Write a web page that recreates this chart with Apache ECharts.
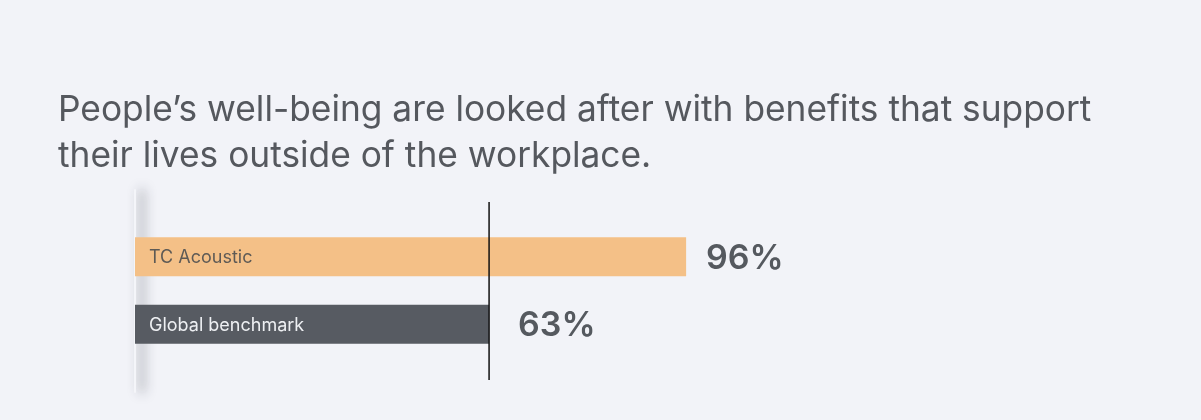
<!DOCTYPE html>
<html>
<head>
<meta charset="utf-8">
<script src="https://cdn.jsdelivr.net/npm/echarts@6/dist/echarts.min.js"></script>
<style>
  html, body { margin: 0; padding: 0; background: #f2f3f8; }
  #chart { width: 1201px; height: 420px; }
</style>
</head>
<body>
<div id="chart"></div>
<script>
const titleLines = [
  'People\u2019s well-being are looked after with benefits that support',
  'their lives outside of the workplace.'
]
const categories = ['TC Acoustic', 'Global benchmark']
const values = [96, 63]
const barColors = ['#f4c087', '#575b62']
const labelColors = ['#5e5a55', '#eef0f3']
const benchmark = 63

const chart = echarts.init(document.getElementById('chart'))

const xRange = { min: 3.7, max: 100 }
// the reference places the shorter bar's value label a bit further out
const labelDistance = [20, 29]

chart.setOption({
  backgroundColor: '#f2f3f8',
  animation: false,
  title: {
    text: titleLines.join('\n'),
    left: 53,
    top: 82,
    textStyle: {
      fontFamily: 'Inter',
      fontSize: 35.3,
      fontWeight: 400,
      color: '#55585e',
      lineHeight: 46
    }
  },
  grid: [
    { left: 135, top: 223, width: 575, height: 135 },
    { left: 135, top: 190, width: 575, height: 202 }
  ],
  xAxis: [
    { gridIndex: 0, type: 'value', ...xRange, show: false },
    { gridIndex: 1, type: 'value', ...xRange, show: false }
  ],
  yAxis: [
    {
      gridIndex: 0,
      type: 'category',
      inverse: true,
      data: categories,
      axisLine: { show: false },
      axisTick: { show: false },
      axisLabel: { show: false }
    },
    {
      gridIndex: 1,
      type: 'value',
      min: -0.0674,
      max: 1.0674,
      splitLine: { show: false },
      axisTick: { show: false },
      axisLabel: { show: false },
      axisLine: {
        show: true,
        lineStyle: {
          color: '#f4f5f9',
          width: 2,
          shadowColor: 'rgba(40,44,58,0.9)',
          shadowBlur: 12,
          shadowOffsetX: 7
        }
      }
    }
  ],
  series: [
    {
      type: 'bar',
      xAxisIndex: 0,
      yAxisIndex: 0,
      barWidth: 39,
      clip: true,
      z: 3,
      data: values.map((v, i) => ({
        value: v,
        itemStyle: { color: barColors[i] },
        label: { color: labelColors[i] }
      })),
      label: {
        show: true,
        position: 'insideLeft',
        offset: [9, 1],
        fontFamily: 'Inter',
        fontSize: 18,
        formatter: (p) => categories[p.dataIndex]
      }
    },
    {
      // value labels to the right of each bar
      type: 'bar',
      xAxisIndex: 0,
      yAxisIndex: 0,
      barWidth: 39,
      barGap: '-100%',
      z: 2,
      itemStyle: { color: 'transparent' },
      data: values.map((v, i) => ({
        value: v,
        label: { distance: labelDistance[i] }
      })),
      label: {
        show: true,
        position: 'right',
        offset: [0, 2],
        fontFamily: 'Inter',
        fontSize: 34,
        fontWeight: 600,
        color: '#55595f',
        formatter: '{c}%'
      }
    },
    {
      // benchmark reference line
      type: 'line',
      xAxisIndex: 1,
      yAxisIndex: 1,
      symbol: 'none',
      z: 5,
      lineStyle: { color: '#111111', width: 1.5 },
      data: [[benchmark, 0], [benchmark, 1]]
    }
  ]
})
</script>
</body>
</html>
